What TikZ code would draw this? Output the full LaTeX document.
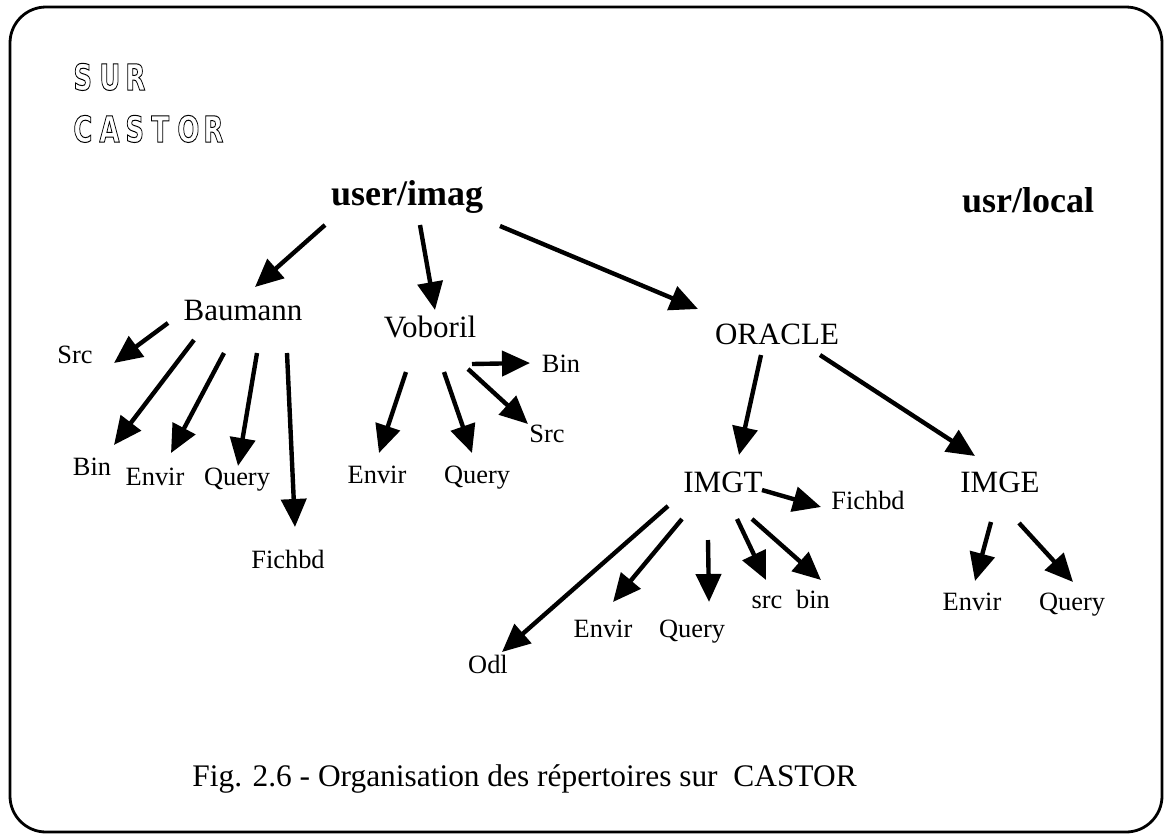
\documentclass[tikz,border=0pt]{standalone}
\usepackage{fontspec}
\setmainfont{Liberation Serif}
\newfontfamily\blockfont{DejaVu Sans}
\usetikzlibrary{arrows.meta}
\newcommand{\outl}[1]{\special{pdf:literal direct 1 Tr 0.5 w}#1\special{pdf:literal direct 0 Tr}}
\newcommand{\blk}[1]{\makebox[13pt][l]{\scalebox{0.72}[1]{#1}}}
\tikzset{
  arr/.style={line width=2.2pt, -{Triangle[length=14pt,width=12.5pt]}},
  big/.style={inner sep=0pt, anchor=base, font=\fontsize{15.5}{18}\selectfont},
  small/.style={inner sep=0pt, anchor=base, font=\fontsize{13.2}{16}\selectfont},
  bold/.style={inner sep=0pt, anchor=base, font=\fontsize{18}{21}\selectfont\bfseries},
  stencil/.style={inner sep=0pt, anchor=base west, font=\fontsize{18}{20}\selectfont\blockfont\bfseries},
}
\begin{document}
\begin{tikzpicture}[x=0.5pt,y=-0.5pt]
\useasboundingbox (0,0) rectangle (1167,836);
\draw[line width=1.4pt, rounded corners=18pt] (10,7) rectangle (1162,832);

% title
\node[stencil] (sur) at (73,90) {\outl{\blk{S}\blk{U}\blk{R}}};
\node[stencil] (castor) at (73,142) {\outl{\blk{C}\blk{A}\blk{S}\blk{T}\blk{O}\blk{R}}};

% nodes
\node[bold] (root) at (407,205) {user/imag};
\node[bold] (usrlocal) at (1028,212) {usr/local};
\node[big] (baum) at (243,320) {Baumann};
\node[big] (vob) at (430,337) {Voboril};
\node[big] (orac) at (777,344) {ORACLE};
\node[big] (imgt) at (723,492) {IMGT};
\node[big] (imge) at (1000,492) {IMGE};

\node[small] (bsrc) at (75,363) {Src};
\node[small] (bbin) at (92,475) {Bin};
\node[small] (benv) at (155,485) {Envir};
\node[small] (bqry) at (237,485) {Query};
\node[small] (bfich) at (288,568) {Fichbd};

\node[small] (venv) at (377,483) {Envir};
\node[small] (vqry) at (477,483) {Query};
\node[small] (vbin) at (561,372) {Bin};
\node[small] (vsrc) at (547,442) {Src};

\node[small] (tfich) at (868,509) {Fichbd};
\node[small] (todl) at (488,673) {Odl};
\node[small] (tenv) at (603,637) {Envir};
\node[small] (tqry) at (692,637) {Query};
\node[small] (tsrc) at (767,608) {src};
\node[small] (tbin) at (813,608) {bin};

\node[small] (eenv) at (972,610) {Envir};
\node[small] (eqry) at (1072,610) {Query};

\node[inner sep=0pt, anchor=base west, font=\fontsize{15.7}{19}\selectfont] (caption) at (192,786)
  {Fig. 2.6 - Organisation des répertoires sur\ \ CASTOR};

% connector end points
\coordinate (a1s) at (325,225); \coordinate (a1e) at (255,287);
\coordinate (a2s) at (420,225); \coordinate (a2e) at (435,310);
\coordinate (a3s) at (500,226); \coordinate (a3e) at (698,309);
\coordinate (b1s) at (168,323); \coordinate (b1e) at (114,363);
\coordinate (b2s) at (194,340); \coordinate (b2e) at (114,445);
\coordinate (b3s) at (224,353); \coordinate (b3e) at (171,453);
\coordinate (b4s) at (257,353); \coordinate (b4e) at (238,466);
\coordinate (b5s) at (287,353); \coordinate (b5e) at (295,527);
\coordinate (v1s) at (406,372); \coordinate (v1e) at (379,453);
\coordinate (v2s) at (444,372); \coordinate (v2e) at (472,453);
\coordinate (v3s) at (472,364); \coordinate (v3e) at (530,363);
\coordinate (v4s) at (468,369); \coordinate (v4e) at (528,424);
\coordinate (o1s) at (761,355); \coordinate (o1e) at (739,455);
\coordinate (o2s) at (820,355); \coordinate (o2e) at (975,456);
\coordinate (t1s) at (762,490); \coordinate (t1e) at (821,507);
\coordinate (t2s) at (668,506); \coordinate (t2e) at (502,652);
\coordinate (t3s) at (682,519); \coordinate (t3e) at (613,602);
\coordinate (t4s) at (708,540); \coordinate (t4e) at (709,602);
\coordinate (t5s) at (737,519); \coordinate (t5e) at (766,580);
\coordinate (t6s) at (752,519); \coordinate (t6e) at (821,580);
\coordinate (e1s) at (991,522); \coordinate (e1e) at (975,581);
\coordinate (e2s) at (1019,523); \coordinate (e2e) at (1073,582);

\foreach \p in {a1,a2,a3,b1,b2,b3,b4,b5,v1,v2,v3,v4,o1,o2,t1,t2,t3,t4,t5,t6,e1,e2}
  \draw[arr] (\p s) -- (\p e);
\end{tikzpicture}
\end{document}
